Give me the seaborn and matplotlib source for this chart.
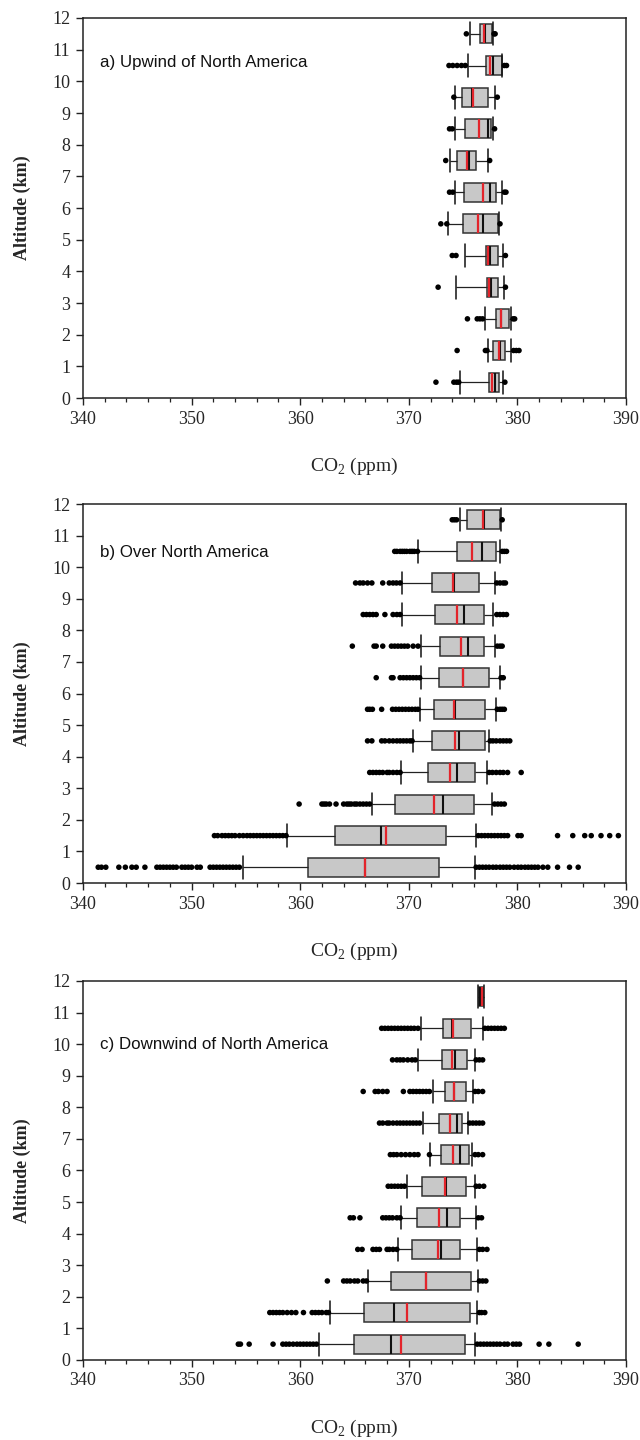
import numpy as np
import pandas as pd
import matplotlib
matplotlib.use("Agg")
import matplotlib.pyplot as plt
from matplotlib.ticker import MultipleLocator
import seaborn as sns

# Altitude bin centres (km)
ALT = [0.5, 1.5, 2.5, 3.5, 4.5, 5.5, 6.5, 7.5, 8.5, 9.5, 10.5, 11.5]

# ---------------- a) Upwind of North America ----------------
A_lo   = [374.75, 377.3, 377.0, 374.35, 375.15, 373.65, 374.3, 373.8, 374.3, 374.3, 375.45, 375.6]
A_q1   = [377.4, 377.8, 378.0, 377.2, 377.15, 375.0, 375.05, 374.45, 375.2, 374.9, 377.1, 376.6]
A_med  = [377.9, 378.4, 378.45, 377.55, 377.5, 376.85, 377.45, 375.5, 377.3, 375.8, 377.75, 377.0]
A_mean = [377.7, 378.3, 378.5, 377.4, 377.25, 376.35, 376.85, 375.35, 376.45, 375.9, 377.45, 376.9]
A_q3   = [378.3, 378.85, 379.2, 378.2, 378.2, 378.2, 378.05, 376.15, 377.6, 377.3, 378.55, 377.7]
A_hi   = [378.65, 379.45, 379.45, 378.75, 378.65, 378.3, 378.6, 377.3, 377.75, 377.9, 378.6, 377.75]
A_fliers = [
    [372.5, 374.15, 374.4, 374.6, 378.85],
    [374.45, 377.05, 377.2, 379.65, 379.9, 380.15],
    [375.4, 376.3, 376.55, 376.8, 379.6, 379.75],
    [372.7, 378.9],
    [374.0, 374.35, 378.9],
    [372.95, 373.5, 378.4],
    [373.75, 374.05, 378.8, 378.95],
    [373.4, 377.45],
    [373.75, 374.0, 377.9],
    [374.15, 378.15],
    [373.7, 374.05, 374.45, 374.85, 375.2, 378.8, 379.0],
    [375.3, 377.85, 377.95],
]

# ---------------- b) Over North America ----------------
B_lo   = [354.75, 358.8, 366.6, 369.3, 370.4, 371.0, 371.1, 371.1, 369.4, 369.4, 370.85, 374.7]
B_q1   = [360.7, 363.2, 368.7, 371.8, 372.1, 372.3, 372.8, 372.9, 372.4, 372.1, 374.4, 375.4]
B_med  = [366.0, 367.4, 373.15, 374.4, 374.6, 374.3, 375.0, 375.45, 375.1, 374.2, 376.7, 376.9]
B_mean = [365.95, 367.9, 372.3, 373.8, 374.3, 374.2, 375.0, 374.8, 374.4, 374.1, 375.85, 376.8]
B_q3   = [372.75, 373.4, 376.0, 376.1, 377.0, 377.0, 377.4, 376.9, 376.9, 376.5, 378.0, 378.4]
B_hi   = [376.1, 376.2, 377.7, 377.2, 377.4, 378.0, 378.4, 377.9, 377.8, 377.9, 378.4, 378.5]
B_fliers = [
    [341.4, 341.7, 342.1, 343.3, 343.9, 344.5, 344.9, 345.7, 346.8, 347.1, 347.4, 347.7,
     348.0, 348.3, 348.6, 349.1, 349.4, 349.7, 350.0, 350.5, 350.8, 351.7, 352.0, 352.3,
     352.6, 352.9, 353.2, 353.5, 353.8, 354.1, 354.4, 376.2, 376.5, 376.8, 377.1, 377.4,
     377.75, 378.05, 378.4, 378.7, 379.0, 379.3, 379.7, 380.05, 380.35, 380.7, 381.0,
     381.3, 381.6, 381.9, 382.35, 382.8, 383.7, 384.8, 385.6],
    [352.1, 352.4, 352.8, 353.1, 353.4, 353.7, 354.0, 354.4, 354.75, 355.1, 355.4, 355.7,
     356.0, 356.3, 356.6, 356.9, 357.2, 357.5, 357.8, 358.1, 358.4, 358.7, 376.4, 376.7,
     377.0, 377.3, 377.6, 377.9, 378.2, 378.5, 378.8, 379.1, 380.05, 380.35, 383.7, 385.1,
     386.2, 386.8, 387.7, 388.5, 389.3],
    [359.9, 362.0, 362.2, 362.4, 362.7, 363.3, 364.0, 364.3, 364.5, 364.7, 365.0, 365.2,
     365.5, 365.8, 366.1, 366.4, 377.9, 378.2, 378.5, 378.8],
    [366.4, 366.7, 367.0, 367.3, 367.6, 368.0, 368.2, 368.55, 368.9, 369.2, 377.4, 377.7,
     378.05, 378.4, 378.7, 379.1, 380.35],
    [366.2, 366.6, 367.5, 367.8, 368.2, 368.55, 368.9, 369.2, 369.5, 369.8, 370.1, 370.3,
     377.5, 377.75, 378.05, 378.4, 378.7, 379.0, 379.3],
    [366.2, 366.4, 366.65, 367.5, 368.5, 368.8, 369.1, 369.4, 369.7, 370.0, 370.3, 370.6,
     370.85, 378.15, 378.4, 378.6, 378.8],
    [367.0, 368.4, 368.55, 369.2, 369.5, 369.8, 370.1, 370.4, 370.7, 371.0, 378.5, 378.7],
    [364.8, 366.8, 367.0, 367.6, 368.4, 368.7, 369.0, 369.3, 369.6, 369.9, 370.4, 370.85,
     378.15, 378.4, 378.6],
    [365.8, 366.1, 366.4, 366.7, 367.0, 367.8, 368.55, 368.9, 369.2, 378.1, 378.4, 378.7, 379.0],
    [365.1, 365.5, 365.8, 366.2, 366.6, 367.6, 368.2, 368.55, 368.86, 369.2, 378.1, 378.4,
     378.7, 378.9],
    [368.7, 368.9, 369.2, 369.4, 369.6, 369.8, 370.1, 370.3, 370.5, 370.8, 378.6, 378.8, 379.0],
    [374.0, 374.2, 374.4, 378.6],
]

# ---------------- c) Downwind of North America ----------------
C_lo   = [361.75, 362.7, 366.25, 369.0, 369.3, 369.8, 371.95, 371.3, 372.2, 370.85, 371.1, 376.4]
C_q1   = [365.0, 365.85, 368.4, 370.3, 370.8, 371.25, 373.0, 372.8, 373.3, 373.1, 373.15, 376.46]
C_med  = [368.4, 368.6, 371.6, 373.0, 373.5, 373.4, 374.7, 374.4, 374.2, 374.3, 374.0, 376.6]
C_mean = [369.3, 369.8, 371.6, 372.7, 372.8, 373.3, 374.1, 373.8, 374.2, 374.0, 374.1, 376.7]
C_q3   = [375.2, 375.6, 375.7, 374.7, 374.7, 375.3, 375.5, 374.9, 375.3, 375.4, 375.7, 376.8]
C_hi   = [376.1, 376.3, 376.4, 376.3, 376.15, 376.1, 375.85, 375.45, 375.9, 376.1, 376.8, 376.9]
C_fliers = [
    [354.3, 354.5, 355.3, 357.5, 358.4, 358.7, 359.0, 359.35, 359.7, 360.0, 360.3, 360.6,
     360.9, 361.2, 361.5, 376.3, 376.6, 376.9, 377.2, 377.5, 377.8, 378.1, 378.4, 378.8,
     379.1, 379.6, 379.9, 380.2, 382.0, 382.9, 385.6],
    [357.2, 357.5, 357.8, 358.1, 358.4, 358.8, 359.2, 359.6, 360.3, 361.1, 361.4, 361.7,
     362.0, 362.4, 362.6, 376.5, 376.7, 377.0],
    [362.5, 364.0, 364.3, 364.6, 365.0, 365.3, 365.8, 366.1, 376.5, 376.8, 377.1],
    [365.3, 365.7, 366.7, 367.0, 367.3, 368.0, 368.2, 368.55, 368.9, 376.5, 376.8, 377.2],
    [364.6, 364.9, 365.5, 367.6, 367.9, 368.2, 368.5, 368.9, 369.2, 376.4, 376.7],
    [368.1, 368.4, 368.7, 369.0, 369.3, 369.6, 376.2, 376.5, 376.9],
    [368.3, 368.6, 368.9, 369.3, 369.7, 370.1, 370.5, 370.85, 371.9, 376.1, 376.4, 376.8],
    [367.3, 367.6, 368.0, 368.2, 368.55, 368.9, 369.2, 369.5, 369.8, 370.1, 370.4, 370.7,
     371.0, 375.6, 375.9, 376.2, 376.5, 376.8],
    [365.8, 366.9, 367.2, 367.6, 368.0, 369.5, 370.1, 370.4, 370.7, 371.0, 371.3, 371.6,
     371.9, 376.1, 376.4, 376.8],
    [368.5, 368.9, 369.2, 369.5, 369.9, 370.3, 370.6, 376.2, 376.5, 376.8],
    [367.5, 367.8, 368.1, 368.4, 368.7, 369.0, 369.3, 369.6, 369.9, 370.2, 370.5, 370.85,
     377.0, 377.3, 377.6, 377.9, 378.2, 378.5, 378.8],
    [],
]

TITLES = ["a) Upwind of North America", "b) Over North America", "c) Downwind of North America"]
X_TICKS = [340, 350, 360, 370, 380, 390]
Y_TICKS = [0, 1, 2, 3, 4, 5, 6, 7, 8, 9, 10, 11, 12]

BOX_FACE = "#c8c8c8"
EDGE = "#333333"
RED = "#e3242b"

sns.set_style("ticks")
plt.rcParams["font.family"] = ["Liberation Serif", "DejaVu Serif"]
plt.rcParams["mathtext.fontset"] = "custom"
plt.rcParams["mathtext.rm"] = "Liberation Serif"
plt.rcParams["axes.edgecolor"] = "#222222"
plt.rcParams["axes.linewidth"] = 1.1

fig = plt.figure(figsize=(6.4, 14.4), dpi=100)
rects = [
    (0.1297, 0.7236, 0.8484, 0.2639),
    (0.1297, 0.3868, 0.8484, 0.2632),
    (0.1297, 0.0556, 0.8484, 0.2632),
]
title_y = [0.882, 0.872, 0.832]

panels = [
    (A_lo, A_q1, A_med, A_q3, A_hi, A_mean, A_fliers),
    (B_lo, B_q1, B_med, B_q3, B_hi, B_mean, B_fliers),
    (C_lo, C_q1, C_med, C_q3, C_hi, C_mean, C_fliers),
]

for k, (lo, q1, med, q3, hi, mean, fliers) in enumerate(panels):
    ax = fig.add_axes(rects[k])
    rows = []
    for a, vals in zip(ALT, zip(lo, q1, med, q3, hi)):
        for v in vals:
            rows.append((a, v))
    df = pd.DataFrame(rows, columns=["alt", "co2"])
    sns.boxplot(data=df, x="co2", y="alt", orient="h", native_scale=True,
                whis=np.inf, width=0.6, color=BOX_FACE, saturation=1,
                linecolor=EDGE, linewidth=1.1, showfliers=False, ax=ax,
                capwidths=0.72,
                medianprops=dict(color="#111111", linewidth=1.5),
                capprops=dict(color="#111111", linewidth=1.1),
                whiskerprops=dict(color="#222222", linewidth=0.9))
    alt = np.array(ALT)
    ax.vlines(mean, alt - 0.3, alt + 0.3, color=RED, lw=1.6, zorder=5)
    fdf = pd.DataFrame([(a, v) for a, fl in zip(ALT, fliers) for v in fl],
                       columns=["alt", "co2"])
    sns.scatterplot(data=fdf, x="co2", y="alt", color="black", s=16,
                    edgecolor="none", ax=ax, zorder=4, legend=False)

    ax.set_xlim(340, 390)
    ax.set_ylim(0, 12)
    ax.set_xticks(X_TICKS)
    ax.set_yticks(Y_TICKS)
    ax.xaxis.set_minor_locator(MultipleLocator(2))
    ax.tick_params(axis="both", which="major", direction="out", length=5,
                   width=1, color="#222222", labelsize=13, pad=4)
    ax.tick_params(axis="x", which="minor", direction="out", length=3,
                   width=0.9, color="#222222")
    for s in ax.spines.values():
        s.set_visible(True)
        s.set_color("#222222")
        s.set_linewidth(1.1)

    ax.set_ylabel("Altitude (km)", fontsize=13, fontweight="bold")
    ax.yaxis.set_label_coords(-0.112, 0.5)
    ax.yaxis.label.set_va("center")
    ax.set_xlabel("CO$_2$ (ppm)", fontsize=14)
    ax.xaxis.set_label_coords(0.5, -0.18)
    ax.xaxis.label.set_va("center")

    ax.text(0.031, title_y[k], TITLES[k], transform=ax.transAxes,
            family=["Liberation Sans", "DejaVu Sans"], fontsize=12.2,
            va="center", ha="left", color="#111111")

fig.savefig("out.png", dpi=100)
